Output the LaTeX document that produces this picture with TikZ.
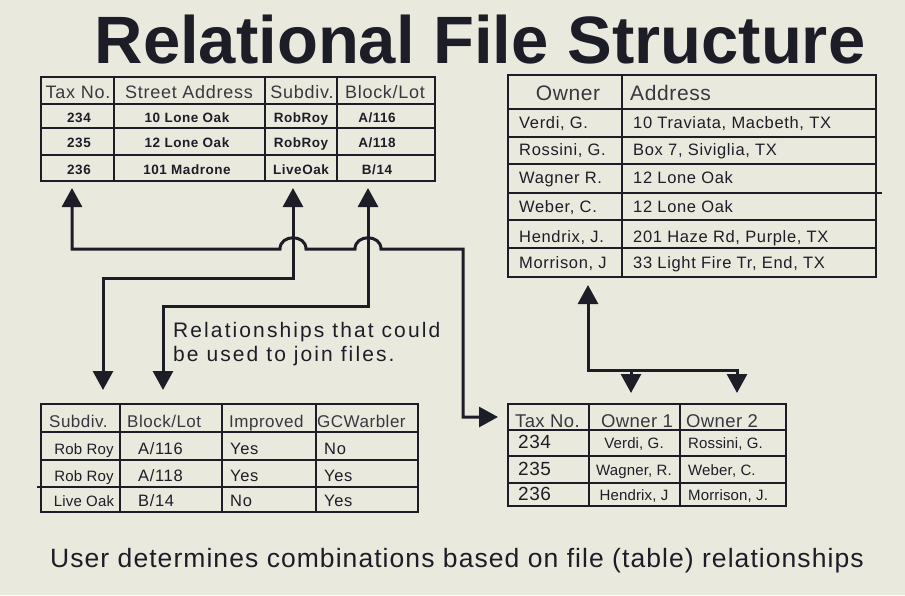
\documentclass[tikz,border=0pt]{standalone}
\usepackage{fontspec}
\setmainfont{Liberation Sans}
\usetikzlibrary{arrows.meta,calc}

\definecolor{paper}{HTML}{EAE9DE}
\definecolor{ink}{HTML}{1D1D28}
\definecolor{headink}{HTML}{38383E}

\tikzset{
  >={Triangle[width=20pt,length=19pt]},
  tablebox/.style={draw=ink, line width=2.4pt, rectangle, inner sep=0pt},
  rule/.style={draw=ink, line width=1.8pt},
  link/.style={draw=ink, line width=3pt},
  cell/.style={inner sep=0pt, anchor=base, text=ink},
  lcell/.style={cell, anchor=base west},
  hdr/.style={cell, text=headink, font=\fontsize{18}{18}\selectfont\addfontfeatures{LetterSpace=4}},
  lhdr/.style={hdr, anchor=base west},
  boldbody/.style={font=\fontsize{13.5}{13.5}\selectfont\bfseries\addfontfeatures{LetterSpace=4}},
  body/.style={font=\fontsize{16.5}{16.5}\selectfont\addfontfeatures{LetterSpace=4}},
  smallbody/.style={font=\fontsize{15}{15}\selectfont\addfontfeatures{LetterSpace=1}},
  note/.style={inner sep=0pt, anchor=base west, text=ink, font=\fontsize{21}{21}\selectfont\addfontfeatures{LetterSpace=10}},
}

\begin{document}
\begin{tikzpicture}[x=1pt,y=-1pt]
\useasboundingbox[fill=paper] (0,0) rectangle (905,595);

% heading
\node[inner sep=0pt, anchor=base, text=ink, font=\fontsize{67}{67}\selectfont\bfseries] (title) at (480,63) {Relational File Structure};

% ---- parcel table
\node[tablebox, anchor=north west, minimum width=394pt, minimum height=104pt] (parcels) at (40,76) {};
\draw[rule] (114,76) -- (114,180) (265,76) -- (265,180) (337,76) -- (337,180);
\draw[rule] (40,104) -- (434,104) (40,128) -- (434,128) (40,155) -- (434,155);
\node[hdr] (pH1) at (78,98) {Tax No.};
\node[hdr] (pH2) at (189,98) {Street Address};
\node[hdr] (pH3) at (302,98) {Subdiv.};
\node[hdr] (pH4) at (385,98) {Block/Lot};
\foreach \r/\y/\a/\b/\c/\d in {1/122/234/{10 Lone Oak}/RobRoy/{A/116},
                               2/147/235/{12 Lone Oak}/RobRoy/{A/118},
                               3/174/236/{101 Madrone}/LiveOak/{B/14}}{
  \node[cell, boldbody] (p\r a) at (79,\y) {\a};
  \node[cell, boldbody] (p\r b) at (187,\y) {\b};
  \node[cell, boldbody] (p\r c) at (301,\y) {\c};
  \node[cell, boldbody] (p\r d) at (377,\y) {\d};
}

% ---- owner table
\node[tablebox, anchor=north west, minimum width=368pt, minimum height=202pt] (owners) at (507,74) {};
\draw[rule] (622,74) -- (622,276);
\draw[rule] (507,109) -- (875,109) (507,137) -- (875,137) (507,164) -- (875,164)
            (507,193) -- (882,193) (507,220) -- (875,220) (507,248) -- (875,248);
\node[hdr, font=\fontsize{21}{21}\selectfont\addfontfeatures{LetterSpace=3}] (oH1) at (568,100) {Owner};
\node[lhdr, font=\fontsize{21}{21}\selectfont\addfontfeatures{LetterSpace=3}] (oH2) at (630,100) {Address};
\foreach \r/\y/\a/\b in {1/128/{Verdi, G.}/{10 Traviata, Macbeth, TX},
                         2/155/{Rossini, G.}/{Box 7, Siviglia, TX},
                         3/183/{Wagner R.}/{12 Lone Oak},
                         4/212/{Weber, C.}/{12 Lone Oak},
                         5/242/{Hendrix, J.}/{201 Haze Rd, Purple, TX},
                         6/268/{Morrison, J}/{33 Light Fire Tr, End, TX}}{
  \node[lcell, body] (o\r a) at (519,\y) {\a};
  \node[lcell, body] (o\r b) at (633,\y) {\b};
}

% ---- lot table
\node[tablebox, anchor=north west, minimum width=377pt, minimum height=108pt] (lots) at (40,403) {};
\draw[rule] (120,403) -- (120,511) (222,403) -- (222,511) (316,403) -- (316,511);
\draw[rule] (40,432) -- (417,432) (40,460) -- (417,460) (37,487) -- (417,487);
\node[lhdr, font=\fontsize{17}{17}\selectfont\addfontfeatures{LetterSpace=3}] (lH1) at (49,427) {Subdiv.};
\node[lhdr, font=\fontsize{17}{17}\selectfont\addfontfeatures{LetterSpace=3}] (lH2) at (127,427) {Block/Lot};
\node[lhdr, font=\fontsize{17}{17}\selectfont\addfontfeatures{LetterSpace=3}] (lH3) at (229,427) {Improved};
\node[lhdr, font=\fontsize{17}{17}\selectfont\addfontfeatures{LetterSpace=3}] (lH4) at (317,427) {GCWarbler};
\foreach \r/\y/\a/\b/\c/\d in {1/454/{Rob Roy}/{A/116}/Yes/No,
                               2/481/{Rob Roy}/{A/118}/Yes/Yes,
                               3/506/{Live Oak}/{B/14}/No/Yes}{
  \node[cell, smallbody] (l\r a) at (84,\y) {\a};
  \node[lcell, body] (l\r b) at (138,\y) {\b};
  \node[lcell, body] (l\r c) at (230,\y) {\c};
  \node[lcell, body] (l\r d) at (324,\y) {\d};
}

% ---- ownership table
\node[tablebox, anchor=north west, minimum width=278pt, minimum height=102pt] (deeds) at (507,403) {};
\draw[rule] (589,403) -- (589,505) (680,403) -- (680,505);
\draw[rule] (507,430) -- (785,430) (507,456) -- (785,456) (507,483) -- (785,483);
\node[lhdr, font=\fontsize{18.5}{18.5}\selectfont\addfontfeatures{LetterSpace=2}] (dH1) at (515,427) {Tax No.};
\node[lhdr, font=\fontsize{18.5}{18.5}\selectfont\addfontfeatures{LetterSpace=2}] (dH2) at (601,427) {Owner 1};
\node[lhdr, font=\fontsize{18.5}{18.5}\selectfont\addfontfeatures{LetterSpace=2}] (dH3) at (686,427) {Owner 2};
\foreach \r/\y/\a/\b/\c in {1/448/234/{Verdi, G.}/{Rossini, G.},
                            2/475/235/{Wagner, R.}/{Weber, C.},
                            3/500/236/{Hendrix, J}/{Morrison, J.}}{
  \node[lcell, font=\fontsize{19}{19}\selectfont\addfontfeatures{LetterSpace=3}] (d\r a) at (518,\y) {\a};
  \node[cell, smallbody] (d\r b) at (634,\y) {\b};
  \node[lcell, smallbody] (d\r c) at (688,\y) {\c};
}

% ---- join keys
\coordinate (kTax) at (72,188);
\coordinate (kSub) at (293,188);
\coordinate (kBlk) at (368,188);
\coordinate (kLotSub) at (103,390);
\coordinate (kLotBlk) at (163,390);
\coordinate (kDeedTax) at (498,417);
\coordinate (kOwner) at (588,285);
\coordinate (kDeed1) at (631,393);
\coordinate (kDeed2) at (737,393);

\draw[link,<->] (kSub) -- (293,278) -| (kLotSub);
\draw[link,<->] (kBlk) -- (368,306) -| (kLotBlk);
\draw[link,<->] (kTax) |- (280,249)
   .. controls (280,234) and (306,234) .. (306,249) -- (355,249)
   .. controls (355,234) and (381,234) .. (381,249) -| (463,417) -- (kDeedTax);
\draw[link,<->] (kOwner) -- (588,370) -| (kDeed2);
\draw[link,->] (631,370) -- (kDeed1);

\node[note] (n1) at (173,337) {Relationships that could};
\node[note] (n2) at (173,361) {be used to join files.};

\node[inner sep=0pt, anchor=base west, text=ink, font=\fontsize{26.5}{26.5}\selectfont\addfontfeatures{LetterSpace=4}] (caption) at (50,567) {User determines combinations based on file (table) relationships};
\end{tikzpicture}
\end{document}
